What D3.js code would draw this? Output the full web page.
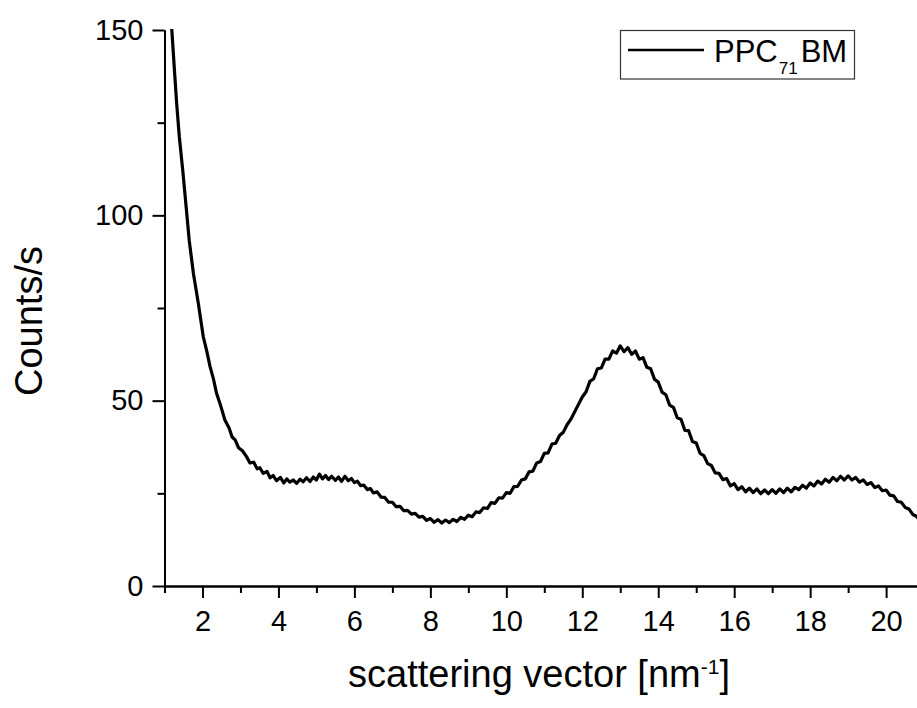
<!DOCTYPE html>
<html>
<head>
<meta charset="utf-8">
<script src="https://cdn.jsdelivr.net/npm/d3@7/dist/d3.min.js"></script>
<style>
  body { margin: 0; background: #fff; }
  svg { display: block; font-family: "Liberation Sans", Arial, sans-serif; }
</style>
</head>
<body>
<script>
// scattering vector q [nm^-1]
var qValues = [
  1.19, 1.25, 1.32, 1.39, 1.48, 1.57, 1.65, 1.76, 1.89, 2.02, 2.11, 2.20, 2.29, 2.37, 2.48, 2.59,
  2.70, 2.78, 2.86, 2.95, 3.05, 3.16, 3.25, 3.35, 3.44, 3.51, 3.60, 3.70, 3.78, 3.86, 3.95, 4.05,
  4.14, 4.22, 4.30, 4.39, 4.48, 4.57, 4.65, 4.74, 4.83, 4.92, 5.00, 5.08, 5.16, 5.24, 5.32, 5.40,
  5.50, 5.58, 5.66, 5.75, 5.84, 5.92, 6.00, 6.08, 6.16, 6.25, 6.34, 6.42, 6.50, 6.60, 6.70, 6.80,
  6.90, 7.00, 7.10, 7.20, 7.30, 7.40, 7.50, 7.60, 7.70, 7.80, 7.90, 8.00, 8.10, 8.20, 8.30, 8.40,
  8.50, 8.60, 8.70, 8.80, 8.90, 9.00, 9.10, 9.20, 9.30, 9.40, 9.50, 9.60, 9.70, 9.80, 9.90, 10.0,
  10.1, 10.2, 10.3, 10.4, 10.5, 10.6, 10.7, 10.8, 10.9, 11.0, 11.1, 11.2, 11.3, 11.4, 11.5, 11.6,
  11.7, 11.8, 11.9, 12.0, 12.1, 12.2, 12.3, 12.4, 12.5, 12.6, 12.7, 12.8, 12.9, 13.0, 13.1, 13.2,
  13.3, 13.4, 13.5, 13.6, 13.7, 13.8, 13.9, 14.0, 14.1, 14.2, 14.3, 14.4, 14.5, 14.6, 14.7, 14.8,
  14.9, 15.0, 15.1, 15.2, 15.3, 15.4, 15.5, 15.6, 15.7, 15.8, 15.9, 16.0, 16.1, 16.2, 16.3, 16.4,
  16.5, 16.6, 16.7, 16.8, 16.9, 17.0, 17.1, 17.2, 17.3, 17.4, 17.5, 17.6, 17.7, 17.8, 17.9, 18.0,
  18.1, 18.2, 18.3, 18.4, 18.5, 18.6, 18.7, 18.8, 18.9, 19.0, 19.1, 19.2, 19.3, 19.4, 19.5, 19.6,
  19.7, 19.8, 19.9, 20.0, 20.1, 20.2, 20.3, 20.4, 20.5, 20.6, 20.7, 20.8, 20.9
];

// intensity [counts/s]
var counts = [
  150.5, 141.0, 130.2, 121.2, 112.2, 102.3, 93.3, 84.4, 76.3, 67.3, 63.5, 59.2, 55.8, 52.0, 48.6, 44.8,
  42.6, 40.2, 39.4, 37.3, 36.5, 34.9, 33.2, 33.4, 31.6, 31.9, 30.4, 30.9, 29.2, 29.8, 28.4, 29.3,
  27.8, 28.9, 28.0, 28.6, 27.7, 28.8, 28.1, 29.2, 28.2, 29.4, 28.6, 30.2, 28.9, 29.8, 28.7, 29.6,
  28.5, 29.4, 28.2, 29.6, 28.4, 29.0, 27.9, 28.3, 27.1, 27.2, 26.0, 26.3, 25.1, 25.4, 24.0, 23.9,
  22.6, 22.6, 21.4, 21.5, 20.3, 20.4, 19.4, 19.6, 18.6, 18.8, 17.7, 18.2, 17.2, 17.9, 17.0, 17.8,
  17.1, 18.0, 17.4, 18.5, 18.0, 19.1, 18.7, 20.0, 19.8, 21.1, 20.9, 22.5, 22.3, 23.8, 23.7, 25.2,
  25.0, 26.8, 26.9, 28.6, 28.9, 30.8, 31.0, 33.2, 33.6, 35.8, 35.9, 38.3, 38.5, 40.6, 41.5, 43.5,
  45.0, 47.0, 49.0, 51.0, 52.4, 55.2, 55.9, 58.6, 58.8, 61.2, 61.2, 63.4, 62.8, 64.8, 63.2, 64.3,
  62.5, 63.4, 61.2, 61.6, 59.0, 58.6, 55.8, 55.0, 52.3, 51.6, 48.8, 48.2, 45.4, 45.0, 42.0, 41.9,
  39.0, 38.6, 35.8, 35.2, 33.0, 32.5, 30.5, 30.4, 28.7, 29.0, 27.0, 27.6, 26.0, 26.8, 25.4, 26.4,
  25.2, 26.2, 24.9, 25.9, 24.9, 26.0, 25.0, 26.2, 25.2, 26.4, 25.4, 26.6, 26.0, 27.2, 26.4, 27.8,
  27.0, 28.3, 27.5, 28.8, 28.0, 29.3, 28.4, 29.6, 28.6, 29.7, 28.6, 29.3, 28.0, 28.6, 27.4, 27.9,
  26.6, 27.0, 25.7, 25.9, 24.5, 24.3, 22.8, 22.6, 21.2, 20.8, 19.3, 18.8, 17.5
];

var xMajorTicks = [2, 4, 6, 8, 10, 12, 14, 16, 18, 20];
var xMinorTicks = [1, 3, 5, 7, 9, 11, 13, 15, 17, 19, 21];
var yMajorTicks = [0, 50, 100, 150];
var yMinorTicks = [25, 75, 125];

var width = 917, height = 708;
var plotLeft = 164.5, plotTop = 30, plotBottom = 586;

var svg = d3.select("body").append("svg")
  .attr("width", width)
  .attr("height", height);

var x = d3.scaleLinear().domain([1, 21]).range([plotLeft, plotLeft + 20 * 37.98]);
var y = d3.scaleLinear().domain([0, 150]).range([plotBottom, plotTop]);

svg.append("clipPath").attr("id", "plotClip")
  .append("rect")
  .attr("x", plotLeft).attr("y", plotTop - 1)
  .attr("width", width - plotLeft).attr("height", plotBottom - plotTop + 1);

// curve
var points = qValues.map(function(q, i) { return [q, counts[i]]; });
var line = d3.line()
  .x(function(d) { return x(d[0]); })
  .y(function(d) { return y(d[1]); });

svg.append("path")
  .datum(points)
  .attr("clip-path", "url(#plotClip)")
  .attr("d", line)
  .attr("fill", "none")
  .attr("stroke", "#000")
  .attr("stroke-width", 3.2)
  .attr("stroke-linejoin", "round");

// x axis
svg.append("g")
  .attr("transform", "translate(0," + plotBottom + ")")
  .call(d3.axisBottom(x).tickValues(xMajorTicks).tickSize(12).tickSizeOuter(0).tickPadding(12)
    .tickFormat(d3.format("d")));

svg.append("g")
  .attr("transform", "translate(0," + plotBottom + ")")
  .call(d3.axisBottom(x).tickValues(xMinorTicks).tickSize(7).tickSizeOuter(0).tickFormat(""));

// y axis
svg.append("g")
  .attr("transform", "translate(" + plotLeft + ",0)")
  .call(d3.axisLeft(y).tickValues(yMajorTicks).tickSize(12).tickSizeOuter(0).tickPadding(9)
    .tickFormat(d3.format("d")));

svg.append("g")
  .attr("transform", "translate(" + plotLeft + ",0)")
  .call(d3.axisLeft(y).tickValues(yMinorTicks).tickSize(7).tickSizeOuter(0).tickFormat(""));

svg.selectAll(".domain, .tick line")
  .attr("stroke", "#000")
  .attr("stroke-width", 2);

svg.selectAll(".tick text")
  .attr("fill", "#000")
  .style("font-size", "29px")
  .style("font-family", "'Liberation Sans', Arial, sans-serif");

// axis titles
svg.append("text")
  .attr("transform", "translate(42,321) rotate(-90)")
  .attr("text-anchor", "middle")
  .style("font-size", "38px")
  .text("Counts/s");

var xTitle = svg.append("text")
  .attr("x", 539)
  .attr("y", 687)
  .attr("text-anchor", "middle")
  .style("font-size", "38px");
xTitle.append("tspan").text("scattering vector [nm");
xTitle.append("tspan").attr("dy", -13).style("font-size", "21px").text("-1");
xTitle.append("tspan").attr("dy", 13).text("]");

// legend
var legend = svg.append("g");
legend.append("rect")
  .attr("x", 620.5).attr("y", 30.5)
  .attr("width", 234).attr("height", 48.5)
  .attr("fill", "#fff")
  .attr("stroke", "#333")
  .attr("stroke-width", 1.2);
legend.append("line")
  .attr("x1", 628).attr("x2", 704)
  .attr("y1", 50).attr("y2", 50)
  .attr("stroke", "#000")
  .attr("stroke-width", 2.4);
var legendText = legend.append("text")
  .attr("x", 714)
  .attr("y", 62)
  .style("font-size", "31px");
legendText.append("tspan").text("PPC");
legendText.append("tspan").attr("dy", 12).attr("dx", 1).style("font-size", "17px").text("71");
legendText.append("tspan").attr("dy", -12).attr("dx", 3).text("BM");
</script>
</body>
</html>
